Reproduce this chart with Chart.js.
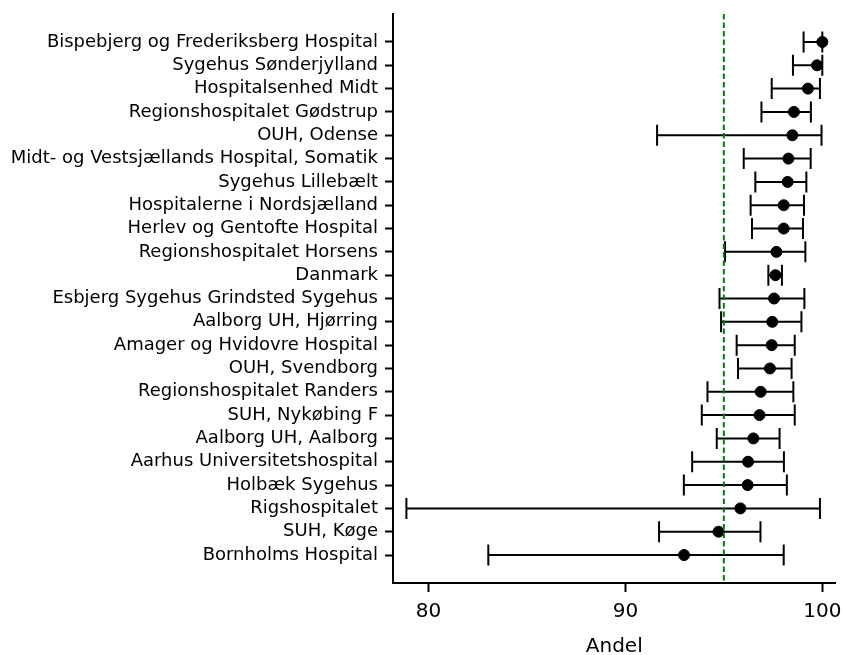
<!DOCTYPE html>
<html>
<head>
<meta charset="utf-8">
<script src="https://cdn.jsdelivr.net/npm/chart.js@4/dist/chart.umd.min.js"></script>
<style>
  body { margin: 0; background: #fff; }
</style>
</head>
<body>
<canvas id="grafico" width="842" height="655"></canvas>
<script>
// hospitaler, oppefra og ned
const hospitaler = [
  "Bispebjerg og Frederiksberg Hospital",
  "Sygehus Sønderjylland",
  "Hospitalsenhed Midt",
  "Regionshospitalet Gødstrup",
  "OUH, Odense",
  "Midt- og Vestsjællands Hospital, Somatik",
  "Sygehus Lillebælt",
  "Hospitalerne i Nordsjælland",
  "Herlev og Gentofte Hospital",
  "Regionshospitalet Horsens",
  "Danmark",
  "Esbjerg Sygehus Grindsted Sygehus",
  "Aalborg UH, Hjørring",
  "Amager og Hvidovre Hospital",
  "OUH, Svendborg",
  "Regionshospitalet Randers",
  "SUH, Nykøbing F",
  "Aalborg UH, Aalborg",
  "Aarhus Universitetshospital",
  "Holbæk Sygehus",
  "Rigshospitalet",
  "SUH, Køge",
  "Bornholms Hospital"
];

const andel = [100.0, 99.73, 99.27, 98.56, 98.48, 98.28, 98.24, 98.04, 98.04, 97.67, 97.62, 97.55,
  97.46, 97.43, 97.34, 96.87, 96.81, 96.5, 96.23, 96.21, 95.84, 94.73, 92.98];
const nedre = [99.05, 98.51, 97.43, 96.91, 91.61, 96.01, 96.6, 96.36, 96.43, 95.06, 97.26, 94.78,
  94.86, 95.65, 95.72, 94.17, 93.88, 94.64, 93.39, 92.97, 78.88, 91.71, 83.04];
const oevre = [100.0, 100.0, 99.88, 99.42, 99.96, 99.41, 99.19, 99.07, 99.02, 99.14, 97.95, 99.09,
  98.94, 98.6, 98.44, 98.53, 98.6, 97.83, 98.05, 98.2, 99.88, 96.86, 98.04];

const xTicks = [80, 90, 100];
const maal = 95; // standard (grøn stiplet linje)

const ctx = document.getElementById("grafico");

// fejlstreger tegnes under punkterne
const fejlstreger = {
  id: "fejlstreger",
  beforeDatasetsDraw(chart) {
    const c = chart.ctx;
    const xs = chart.scales.x;
    const ys = chart.scales.y;
    c.save();
    c.strokeStyle = "#000";
    c.lineWidth = 2;
    hospitaler.forEach((h, i) => {
      const y = ys.getPixelForValue(i);
      const x1 = xs.getPixelForValue(nedre[i]);
      const x2 = xs.getPixelForValue(oevre[i]);
      c.beginPath();
      c.moveTo(x1, y); c.lineTo(x2, y);
      c.moveTo(x1, y - 10.5); c.lineTo(x1, y + 10.5);
      c.moveTo(x2, y - 10.5); c.lineTo(x2, y + 10.5);
      c.stroke();
    });
    c.restore();
  },
  afterDatasetsDraw(chart) {
    const c = chart.ctx;
    const a = chart.chartArea;
    const x = chart.scales.x.getPixelForValue(maal);
    c.save();
    c.strokeStyle = "#008000";
    c.lineWidth = 2;
    c.setLineDash([5.5, 3]);
    c.beginPath();
    c.moveTo(x, a.top); c.lineTo(x, a.bottom);
    c.stroke();
    c.restore();
  }
};

new Chart(ctx, {
  type: "scatter",
  data: {
    datasets: [
      {
        data: andel.map((v, i) => ({ x: v, y: i })),
        backgroundColor: "#000",
        borderColor: "#000",
        pointRadius: 5.5,
        pointHoverRadius: 5.5,
      },
    ],
  },
  options: {
    responsive: false,
    animation: false,
    layout: { padding: { top: 14, right: 6, left: 0, bottom: 0 } },
    plugins: { legend: { display: false }, tooltip: { enabled: false } },
    scales: {
      x: {
        type: "linear",
        min: 78.2,
        max: 100.67,
        afterBuildTicks: (s) => { s.ticks = xTicks.map((v) => ({ value: v })); },
        afterFit: (s) => { s.height = 72; s.paddingLeft = 0; s.paddingRight = 0; },
        border: { color: "#000", width: 2 },
        grid: { drawOnChartArea: false, tickLength: 9, tickColor: "#000", tickWidth: 2 },
        ticks: { color: "#000", padding: 8, font: { family: "DejaVu Sans", size: 20 } },
        title: {
          display: true,
          text: "Andel",
          color: "#000",
          padding: { top: 0, bottom: -4 },
          font: { family: "DejaVu Sans", size: 20 },
        },
      },
      y: {
        type: "linear",
        reverse: true,
        min: -1.2,
        max: hospitaler.length - 1 + 1.2,
        afterBuildTicks: (s) => { s.ticks = hospitaler.map((h, i) => ({ value: i })); },
        afterFit: (s) => { s.width = 393; s.paddingTop = 0; s.paddingBottom = 0; },
        border: { color: "#000", width: 2 },
        grid: { drawOnChartArea: false, tickLength: 8, tickColor: "#000", tickWidth: 2 },
        ticks: {
          color: "#000",
          padding: 7,
          autoSkip: false,
          font: { family: "DejaVu Sans", size: 18 },
          callback: (v) => hospitaler[v],
        },
      },
    },
  },
  plugins: [fejlstreger],
});
</script>
</body>
</html>
